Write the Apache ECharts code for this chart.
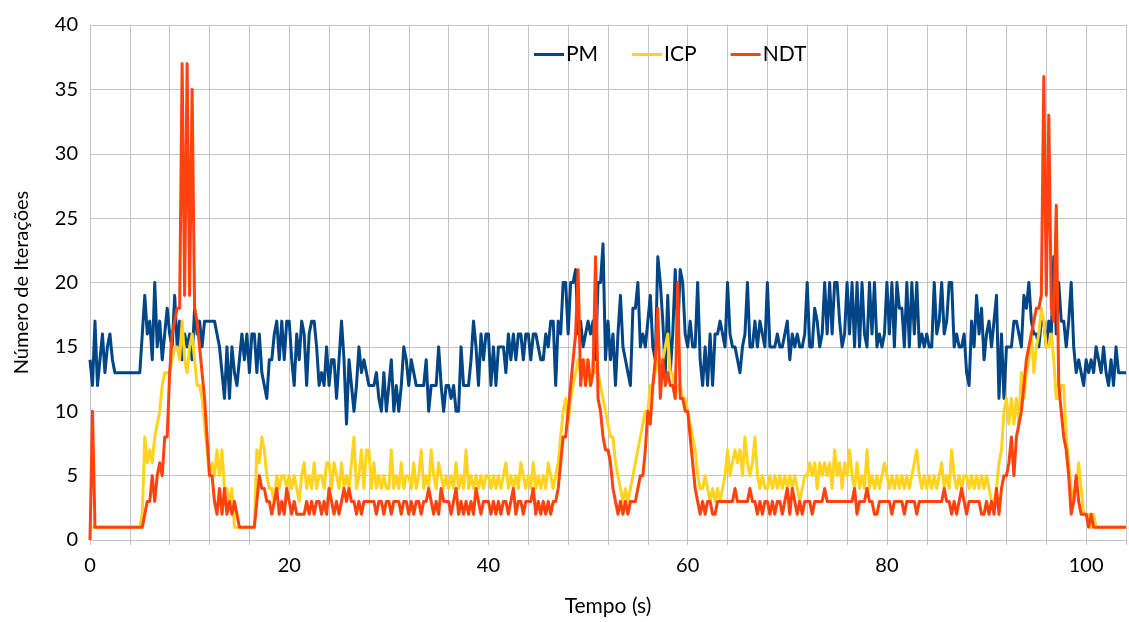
<!DOCTYPE html>
<html>
<head>
<meta charset="utf-8">
<script src="https://cdn.jsdelivr.net/npm/echarts@6/dist/echarts.min.js"></script>
<style>
  html, body { margin: 0; padding: 0; background: #fff; }
  #chart { width: 1129px; height: 622px; }
</style>
</head>
<body>
<div id="chart"></div>
<script>
// sample step of the recording, seconds
var step = 0.25;

// PM, one row = 4 s
var pm = [].concat(
  [14,12,17,12,14,16,13,15,16,14,13,13,13,13,13,13],
  [13,13,13,13,13,16,19,16,17,14,20,15,17,14,16,18],
  [16,15,19,15,17,14,16,15,16,14,18,16,17,15,17,17],
  [17,17,17,16,15,13,11,15,11,15,13,12,14,16,14,16],
  [13,16,16,13,16,13,12,11,14,14,16,17,14,17,14,17],
  [17,14,12,16,14,17,16,12,16,17,17,15,12,13,12,15],
  [12,14,14,11,14,17,14,9,14,12,10,12,15,13,14,13],
  [12,12,12,13,11,10,13,10,12,14,10,12,10,12,15,14],
  [12,14,13,12,12,12,12,14,10,12,12,12,15,12,10,12],
  [12,11,12,10,10,15,12,12,12,14,17,15,12,16,14,16],
  [16,12,15,12,15,15,15,13,16,14,16,14,16,16,14,16],
  [16,14,16,16,15,14,14,16,15,17,17,12,17,16,20,20],
  [16,20,20,21,16,17,15,16,17,16,17,14,20,20,23,14],
  [17,14,16,12,16,19,15,14,13,12,18,18,20,15,16,15],
  [17,19,15,14,22,20,17,13,19,13,16,21,16,21,20,16],
  [15,17,15,15,20,14,12,15,12,16,12,16,16,17,16,15],
  [20,16,15,15,14,13,15,16,20,15,15,17,15,17,16,15],
  [20,15,15,15,16,15,15,16,17,14,16,15,16,15,15,16],
  [20,15,15,18,17,15,16,20,16,20,16,20,20,17,15,16],
  [20,16,20,15,20,15,20,16,15,20,16,20,15,16,15,16],
  [20,16,20,15,20,18,18,15,20,15,20,16,20,15,16,15],
  [16,15,15,20,16,17,20,16,17,20,20,15,16,15,15,16],
  [13,12,17,15,19,16,18,14,16,17,15,17,19,11,16,11],
  [15,15,15,17,17,16,15,19,18,20,17,16,16,15,17,17],
  [15,17,16,22,16,20,17,17,15,17,20,15,13,14,13,12],
  [14,13,14,13,15,14,13,15,13,12,14,12,15,13,13,13],
  [13]
);

var icp = [].concat(
  [1,1,1,1,1,1,1,1,1,1,1,1,1,1,1,1],
  [1,1,1,1,1,2,8,6,7,6,8,9,10,12,13,13],
  [13,14,15,15,14,17,14,13,15,16,14,12,12,11,9,7],
  [5,6,5,7,5,7,4,4,3,4,1,1,1,1,1,1],
  [1,1,1,7,6,8,7,5,4,4,3,5,4,5,5,4],
  [5,4,5,4,3,5,6,4,5,4,6,4,5,5,4,6],
  [6,4,6,5,4,6,4,5,4,6,8,4,5,7,4,7],
  [7,4,6,4,5,4,5,4,4,7,4,5,4,6,4,5],
  [5,4,6,4,5,7,4,5,4,7,5,4,6,5,4,5],
  [4,5,4,6,4,5,4,7,4,5,4,5,4,5,4,5],
  [5,4,5,4,5,4,5,6,4,5,4,5,4,6,5,4],
  [5,4,6,4,5,4,5,4,6,5,4,5,6,8,10,11],
  [9,11,12,13,14,13,14,14,13,12,14,13,13,12,11,10],
  [9,8,8,6,5,4,3,4,3,4,5,6,7,8,9,10],
  [10,12,12,13,14,14,14,15,16,13,13,11,12,12,11,11],
  [10,9,8,7,5,4,4,5,4,3,4,3,4,3,4,5],
  [7,5,6,7,6,7,5,8,6,5,6,8,5,4,5,4],
  [4,5,4,5,4,5,4,5,4,5,4,5,4,3,4,5],
  [5,6,5,6,4,6,5,6,5,6,4,7,5,6,4,6],
  [5,7,5,4,6,4,5,4,7,4,5,4,5,4,5,6],
  [5,4,5,4,5,4,5,4,5,4,5,6,7,5,4,5],
  [4,5,4,5,4,5,6,4,5,4,7,5,4,5,4,5],
  [5,4,5,4,5,4,5,4,5,4,3,3,4,6,7,10],
  [11,9,11,9,11,9,13,11,13,14,16,13,15,16,18,17],
  [15,15,16,14,11,11,12,12,8,6,4,3,4,6,4,2],
  [2,2,1,2,1,1,1,1,1,1,1,1,1,1,1,1],
  [1]
);

var ndt = [].concat(
  [0,10,1,1,1,1,1,1,1,1,1,1,1,1,1,1],
  [1,1,1,1,1,1,2,3,3,5,3,5,6,5,8,8],
  [13,16,17,18,18,37,19,37,19,35,18,17,15,13,11,8],
  [5,5,3,2,4,2,4,2,3,2,3,2,1,1,1,1],
  [1,1,1,3,5,4,4,3,3,2,3,4,2,3,2,4],
  [3,2,3,2,2,2,2,3,2,3,2,3,3,2,3,2],
  [4,3,2,3,2,3,4,3,4,3,3,2,3,2,3,3],
  [3,3,3,2,3,3,2,3,3,2,3,3,3,2,3,3],
  [2,3,2,3,3,2,3,3,4,3,2,3,2,4,3,3],
  [3,2,3,4,2,3,2,3,2,3,2,4,3,2,3,3],
  [3,2,3,2,3,2,3,3,2,3,4,2,3,3,2,3],
  [3,3,4,2,3,2,3,2,3,2,3,3,4,6,8,8],
  [10,12,14,16,21,12,14,12,14,12,13,22,11,10,8,7],
  [7,6,4,3,2,3,2,3,2,3,3,3,4,5,5,7],
  [10,9,12,14,18,11,14,12,13,12,12,11,20,11,11,10],
  [10,8,6,4,3,2,3,2,3,3,2,2,3,3,3,3],
  [3,3,3,4,3,3,3,3,3,4,3,3,2,3,2,3],
  [3,2,3,2,3,3,2,3,4,2,4,3,2,3,2,3],
  [3,3,2,3,3,3,3,4,3,3,3,3,3,3,3,3],
  [3,3,3,4,2,3,3,3,4,3,3,2,2,3,3,3],
  [3,3,2,3,3,3,3,2,3,3,3,3,2,3,3,3],
  [3,3,3,3,3,3,3,4,3,3,2,3,2,3,4,3],
  [2,3,3,3,3,3,2,2,3,2,3,2,4,2,4,5],
  [5,6,8,5,8,9,10,12,14,15,16,17,18,18,19,36],
  [19,33,18,17,26,12,10,8,7,5,2,3,5,3,2,2],
  [2,1,2,1,1,1,1,1,1,1,1,1,1,1,1,1],
  [1]
);

var seriesNames = ['PM', 'ICP', 'NDT'];
var seriesColors = ['#004586', '#ffd320', '#ff420e'];

function pairs(values) {
  return values.map(function (v, i) { return [i * step, v]; });
}

var font = 'Lato, "Open Sans", sans-serif';
var gridColor = '#c4c4c4';

var chart = echarts.init(document.getElementById('chart'), null, { renderer: 'canvas' });

var option = {
  animation: false,
  backgroundColor: '#fff',
  textStyle: { fontFamily: font, color: '#000' },
  color: seriesColors,
  grid: { left: 90, right: 1, top: 25, bottom: 81 },
  legend: {
    data: seriesNames,
    left: 529,
    top: 39,
    icon: 'rect',
    itemWidth: 30,
    itemHeight: 3,
    itemGap: 34,
    textStyle: { fontFamily: font, fontSize: 21, color: '#000', padding: [0, 0, 0, -3] }
  },
  xAxis: {
    type: 'value',
    min: 0,
    max: 104,
    interval: 4,
    name: 'Tempo (s)',
    nameLocation: 'middle',
    nameGap: 56,
    nameTextStyle: { fontFamily: font, fontSize: 21, color: '#000' },
    axisLine: { show: true, lineStyle: { color: gridColor, width: 1 } },
    axisTick: { show: true, length: 5, lineStyle: { color: gridColor } },
    axisLabel: {
      fontFamily: font, fontSize: 20, color: '#000', margin: 16,
      formatter: function (v) { return v % 20 === 0 ? String(v) : ''; }
    },
    splitLine: { show: true, lineStyle: { color: gridColor, width: 1 } }
  },
  yAxis: {
    type: 'value',
    min: 0,
    max: 40,
    interval: 5,
    name: 'Número de Iterações',
    nameLocation: 'middle',
    nameGap: 58,
    nameTextStyle: { fontFamily: font, fontSize: 20, color: '#000' },
    axisLine: { show: true, lineStyle: { color: gridColor, width: 1 } },
    axisTick: { show: false },
    axisLabel: { fontFamily: font, fontSize: 20, color: '#000', margin: 12 },
    splitLine: { show: true, lineStyle: { color: gridColor, width: 1 } }
  },
  series: [pm, icp, ndt].map(function (vals, k) {
    return {
      name: seriesNames[k],
      type: 'line',
      data: pairs(vals),
      showSymbol: false,
      symbol: 'none',
      sampling: 'none',
      lineStyle: { width: 3, color: seriesColors[k], join: 'round' },
      itemStyle: { color: seriesColors[k] },
      z: 2 + k
    };
  })
};

chart.setOption(option);
</script>
</body>
</html>
